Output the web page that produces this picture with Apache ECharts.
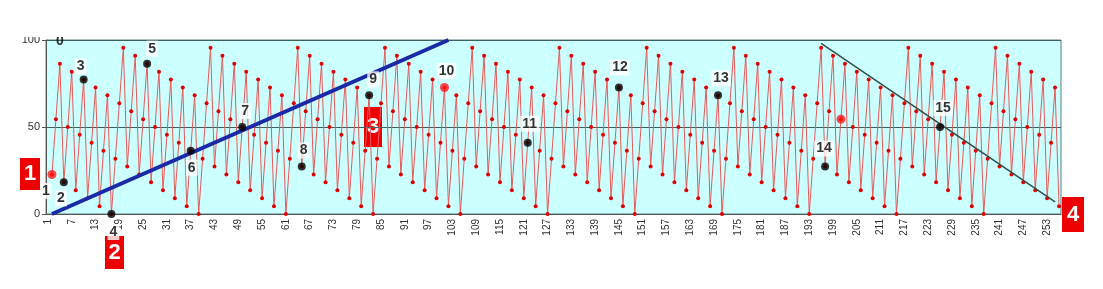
<!DOCTYPE html>
<html><head><meta charset="utf-8">
<script src="https://cdn.jsdelivr.net/npm/echarts@6/dist/echarts.min.js"></script>
<style>html,body{margin:0;padding:0;background:#fff}#c{width:1103px;height:289px}</style>
</head><body><div id="c"></div>
<script>
// category labels 1..256
const categories = [];
for (let i = 1; i <= 256; i++) categories.push(String(i));

// red oscillating series (category 1 empty)
const redValues = [
 null, 22.7, 54.5, 86.4, 18.2, 50, 81.8, 13.6, 45.5, 77.3, 9.1, 40.9, 72.7, 4.5, 36.4, 68.2, 0, 31.8, 63.6, 95.5, 27.3, 59.1,
 90.9, 22.7, 54.5, 86.4, 18.2, 50, 81.8, 13.6, 45.5, 77.3, 9.1, 40.9, 72.7, 4.5, 36.4, 68.2, 0, 31.8, 63.6, 95.5, 27.3, 59.1,
 90.9, 22.7, 54.5, 86.4, 18.2, 50, 81.8, 13.6, 45.5, 77.3, 9.1, 40.9, 72.7, 4.5, 36.4, 68.2, 0, 31.8, 63.6, 95.5, 27.3, 59.1,
 90.9, 22.7, 54.5, 86.4, 18.2, 50, 81.8, 13.6, 45.5, 77.3, 9.1, 40.9, 72.7, 4.5, 36.4, 68.2, 0, 31.8, 63.6, 95.5, 27.3, 59.1,
 90.9, 22.7, 54.5, 86.4, 18.2, 50, 81.8, 13.6, 45.5, 77.3, 9.1, 40.9, 72.7, 4.5, 36.4, 68.2, 0, 31.8, 63.6, 95.5, 27.3, 59.1,
 90.9, 22.7, 54.5, 86.4, 18.2, 50, 81.8, 13.6, 45.5, 77.3, 9.1, 40.9, 72.7, 4.5, 36.4, 68.2, 0, 31.8, 63.6, 95.5, 27.3, 59.1,
 90.9, 22.7, 54.5, 86.4, 18.2, 50, 81.8, 13.6, 45.5, 77.3, 9.1, 40.9, 72.7, 4.5, 36.4, 68.2, 0, 31.8, 63.6, 95.5, 27.3, 59.1,
 90.9, 22.7, 54.5, 86.4, 18.2, 50, 81.8, 13.6, 45.5, 77.3, 9.1, 40.9, 72.7, 4.5, 36.4, 68.2, 0, 31.8, 63.6, 95.5, 27.3, 59.1,
 90.9, 22.7, 54.5, 86.4, 18.2, 50, 81.8, 13.6, 45.5, 77.3, 9.1, 40.9, 72.7, 4.5, 36.4, 68.2, 0, 31.8, 63.6, 95.5, 27.3, 59.1,
 90.9, 22.7, 54.5, 86.4, 18.2, 50, 81.8, 13.6, 45.5, 77.3, 9.1, 40.9, 72.7, 4.5, 36.4, 68.2, 0, 31.8, 63.6, 95.5, 27.3, 59.1,
 90.9, 22.7, 54.5, 86.4, 18.2, 50, 81.8, 13.6, 45.5, 77.3, 9.1, 40.9, 72.7, 4.5, 36.4, 68.2, 0, 31.8, 63.6, 95.5, 27.3, 59.1,
 90.9, 22.7, 54.5, 86.4, 18.2, 50, 81.8, 13.6, 45.5, 77.3, 9.1, 40.9, 72.7, 4.5
];

// blue rising line
const blueCats = ['2', '102'];
const blueValues = [0, 100];

// dark falling line with arrow head
const fallCats = ['196', '255'];
const fallValues = [98, 7];

// numbered black points
const blackCats = ['5', '10', '17', '26', '37', '50', '65', '82', '122', '145', '170', '197', '226'];
const blackValues = [18.2, 77.3, 0, 86.4, 36.4, 50, 27.3, 68.2, 40.9, 72.7, 68.2, 27.3, 50];
const blackLabels = ['2', '3', '4', '5', '6', '7', '8', '9', '11', '12', '13', '14', '15'];

// highlighted red points
const redDotCats = ['2', '101', '201'];
const redDotValues = [22.7, 72.7, 54.5];
const redDotLabels = ['1', '10', ''];

// top clipped label
const topLabelCats = ['4'];
const topLabelValues = [100];
const topLabels = ['0'];

// red boxed markers
const boxLabels = ['1', '2', '3', '4'];

// ---- styles (not data) ----
const blackLabelPos = {
  '2': ['bottom', [-3, 0]], '3': ['top', [-3, 3]], '4': ['bottom', [2, 2]],
  '5': ['top', [5, 1]], '6': ['bottom', [1, 1]], '7': ['top', [3, 0]],
  '8': ['top', [2, 0]], '9': ['top', [4, 0]], '11': ['top', [2, -3]],
  '12': ['top', [1, -4]], '13': ['top', [3, -1]], '14': ['top', [-1, -2]],
  '15': ['top', [3, -3]]
};
const redLabelPos = { '1': ['bottom', [-6, 0]], '10': ['top', [2, 0]], '': ['top', [0, 0]] };
const boxRects = [
  { x: 20, y: 158, w: 20, h: 32, fs: 22 },
  { x: 105, y: 236, w: 19, h: 33, fs: 22 },
  { x: 364, y: 107, w: 18, h: 40, fs: 22 },
  { x: 1062, y: 197, w: 22, h: 35, fs: 22 }
];

const FONT = 'Liberation Sans, Arial, sans-serif';
const numLabel = (pos, off) => ({
  show: true, position: pos, offset: off, color: '#000', fontWeight: 'bold',
  fontSize: 14, fontFamily: FONT, backgroundColor: '#fff', padding: [1, 2], distance: 4
});

const chart = echarts.init(document.getElementById('c'), null, { renderer: 'canvas' });
chart.setOption({
  animation: false,
  backgroundColor: '#fff',
  grid: { left: 46, right: 42, top: 40, bottom: 75, show: true, backgroundColor: '#ccffff', borderColor: '#5f7f7f', borderWidth: 1 },
  xAxis: {
    type: 'category', data: categories, boundaryGap: true,
    axisLine: { lineStyle: { color: '#555', width: 1 } },
    axisTick: { interval: 0, length: 4, lineStyle: { color: '#555' } },
    axisLabel: { interval: 5, rotate: 90, fontSize: 10, color: '#333', fontFamily: FONT, margin: 5 },
    splitLine: { show: false }
  },
  yAxis: {
    type: 'value', min: 0, max: 100, interval: 50,
    axisLine: { show: true, lineStyle: { color: '#555' } },
    axisTick: { show: true, length: 4, lineStyle: { color: '#555' } },
    axisLabel: { fontSize: 11, color: '#333', fontFamily: FONT, margin: 6 },
    splitLine: { show: true, lineStyle: { color: '#3f5f5f', width: 1 } }
  },
  series: [
    {
      type: 'line', data: redValues, z: 2, connectNulls: false,
      symbol: 'circle', symbolSize: 4, showSymbol: true, showAllSymbol: true,
      lineStyle: { color: '#e65a5a', width: 1 },
      itemStyle: { color: '#e00000', borderWidth: 0 }
    },
    {
      type: 'line', data: blueCats.map((c, i) => [c, blueValues[i]]), z: 4,
      symbol: 'none', lineStyle: { color: '#1a2aa6', width: 4 }
    },
    {
      type: 'line', data: fallCats.map((c, i) => [c, fallValues[i]]), z: 4,
      symbol: 'triangle', symbolSize: 11,
      lineStyle: { color: '#2f4f4f', width: 1.5 },
      itemStyle: { color: '#000' }
    },
    {
      type: 'scatter', z: 6, symbol: 'circle', symbolSize: 8,
      itemStyle: { color: '#000' },
      data: blackCats.map((c, i) => ({
        value: [c, blackValues[i]],
        label: Object.assign(numLabel(blackLabelPos[blackLabels[i]][0], blackLabelPos[blackLabels[i]][1]), { formatter: blackLabels[i] })
      }))
    },
    {
      type: 'scatter', z: 6, symbol: 'circle', symbolSize: 9,
      itemStyle: { color: '#ff1a1a' },
      data: redDotCats.map((c, i) => ({
        value: [c, redDotValues[i]],
        label: Object.assign(numLabel(redLabelPos[redDotLabels[i]][0], redLabelPos[redDotLabels[i]][1]), { formatter: redDotLabels[i], show: redDotLabels[i] !== '' })
      }))
    },
    {
      type: 'scatter', z: 5, symbolSize: 0,
      data: topLabelCats.map((c, i) => ({
        value: [c, topLabelValues[i]],
        label: { show: true, position: 'inside', offset: [0, 1], formatter: topLabels[i], fontWeight: 'bold', fontSize: 14, fontFamily: FONT, color: '#000' }
      }))
    }
  ],
  graphic: [
    { type: 'rect', left: 0, top: 0, shape: { width: 1103, height: 37 }, style: { fill: '#fff' }, z: 100 }
  ].concat(boxRects.map((b, i) => ({
    type: 'group', left: b.x, top: b.y, z: 110,
    children: [
      { type: 'rect', shape: { x: 0, y: 0, width: b.w, height: b.h }, style: { fill: '#ee0000' } },
      { type: 'text', x: b.w / 2, y: b.h / 2, style: { text: boxLabels[i], fill: '#fff', font: 'bold ' + b.fs + 'px ' + FONT, textAlign: 'center', textVerticalAlign: 'middle' } }
    ]
  })))
});
</script>
</body></html>
